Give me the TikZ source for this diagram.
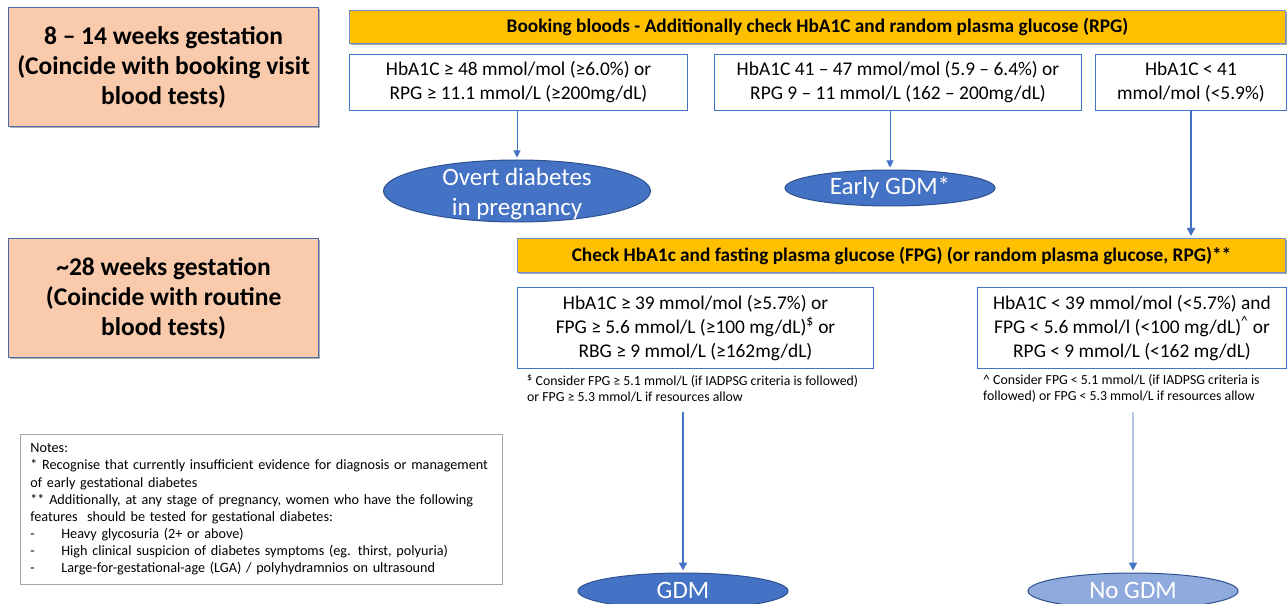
\documentclass[tikz,border=0pt]{standalone}
\usepackage{fontspec}
\setmainfont{Carlito}
\usetikzlibrary{shapes.geometric,arrows.meta,shadows}
\definecolor{peach}{HTML}{F9CBAC}
\definecolor{gold}{HTML}{FFC000}
\definecolor{blu}{HTML}{4472C4}
\definecolor{bluedark}{HTML}{2F528F}
\definecolor{lightblu}{HTML}{8FAADC}
\definecolor{paleline}{HTML}{B4C7E7}
\definecolor{stageborder}{HTML}{4A6DA8}
\definecolor{bannerborder}{HTML}{6F8FD0}
\definecolor{shadowgray}{HTML}{8C8C8C}
\definecolor{notegray}{HTML}{A6A6A6}
\tikzset{
  stage/.style={draw=stageborder, fill=peach, line width=1.2pt, minimum width=310pt, minimum height=119pt, anchor=north west, inner sep=0pt, align=center, font=\bfseries\fontsize{25.5}{30}\selectfont, drop shadow={shadow xshift=1pt, shadow yshift=-1pt, fill=shadowgray, opacity=0.7}},
  banner/.style={draw=bannerborder, fill=gold, line width=1pt, anchor=north west, inner sep=0pt, font=\bfseries\fontsize{19.3}{22}\selectfont, drop shadow={shadow xshift=1.2pt, shadow yshift=-1.2pt, fill=shadowgray, opacity=0.8}},
  crit/.style={draw=blu, fill=white, line width=1pt, anchor=north west, inner sep=0pt, align=center, font=\fontsize{19.4}{24}\selectfont},
  outc/.style={ellipse, draw=bluedark, fill=blu, line width=1pt, inner sep=0pt},
  outcpale/.style={ellipse, draw=bluedark, fill=lightblu, line width=1pt, inner sep=0pt},
  outtext/.style={text=white, inner sep=0pt, align=center, font=\fontsize{25}{30}\selectfont},
  fnote/.style={anchor=north west, inner sep=0pt, align=left, font=\fontsize{13.8}{16}\selectfont},
  notesbox/.style={draw=notegray, line width=0.8pt, anchor=north west, inner xsep=10pt, inner ysep=0pt, minimum height=150pt, text width=462pt, align=left, font=\fontsize{14.2}{17.1}\selectfont},
  arr/.style={draw=blu, line width=0.9pt, -{Triangle[width=7pt,length=7pt]}, shorten >=2pt},
  arrthick/.style={draw=blu, line width=1.8pt, -{Triangle[width=8pt,length=8pt]}, shorten >=2pt},
  arrpale/.style={draw=paleline, line width=1.5pt, -{Triangle[width=8pt,length=8pt,color=blu]}, shorten >=2pt}
}
\begin{document}
\begin{tikzpicture}[x=1pt,y=-1pt]
\useasboundingbox (0,0) rectangle (1288,604);
\fill[white] (0,0) rectangle (1288,604);

\node[stage] (stage1) at (8,7) {8 -- 14 weeks gestation\\(Coincide with booking visit\\blood tests)};
\node[stage] (stage2) at (8,238) {\textasciitilde 28 weeks gestation\\(Coincide with routine\\blood tests)};

\node[banner, minimum width=936pt, minimum height=33pt] (ban1) at (349,10) {Booking bloods - Additionally check HbA1C and random plasma glucose (RPG)};

\node[crit, minimum width=338pt, minimum height=56pt] (boxA) at (349,54) {HbA1C ≥ 48 mmol/mol (≥6.0\%) or\\RPG ≥ 11.1 mmol/L (≥200mg/dL)};
\node[crit, minimum width=367pt, minimum height=56pt] (boxB) at (714,54) {HbA1C 41 -- 47 mmol/mol (5.9 -- 6.4\%) or\\RPG 9 -- 11 mmol/L (162 -- 200mg/dL)};
\node[crit, minimum width=191pt, minimum height=56pt] (boxC) at (1095,54) {HbA1C < 41\\mmol/mol (<5.9\%)};

\node[outc, minimum width=267pt, minimum height=62pt] (overt) at (517,191) {};
\node[outtext] (overtT) at (517,194) {Overt diabetes\\in pregnancy};
\node[outc, minimum width=210pt, minimum height=36pt] (early) at (890,188) {};
\node[outtext] (earlyT) at (890,188) {Early GDM*};

\node[banner, minimum width=768pt, minimum height=34pt] (ban2) at (517,238) {Check HbA1c and fasting plasma glucose (FPG) (or random plasma glucose, RPG)**};

\node[crit, minimum width=356pt, minimum height=81pt] (boxD) at (517,287) {HbA1C ≥ 39 mmol/mol (≥5.7\%) or\\FPG ≥ 5.6 mmol/L (≥100 mg/dL)\textsuperscript{\$} or\\RBG ≥ 9 mmol/L (≥162mg/dL)};
\node[crit, minimum width=309pt, minimum height=81pt] (boxE) at (977,287) {HbA1C < 39 mmol/mol (<5.7\%) and\\FPG < 5.6 mmol/l (<100 mg/dL)\textsuperscript{\textasciicircum} or\\RPG < 9 mmol/L (<162 mg/dL)};

\node[fnote] (fnD) at (527,374) {\textsuperscript{\$} Consider FPG ≥ 5.1 mmol/L (if IADPSG criteria is followed)\\or FPG ≥ 5.3 mmol/L if resources allow};
\node[fnote] (fnE) at (983,374) {\textasciicircum{} Consider FPG < 5.1 mmol/L (if IADPSG criteria is\\followed) or FPG < 5.3 mmol/L if resources allow};

\node[notesbox] (notes) at (20,434) {Notes:\\
{*} Recognise that currently insufficient evidence for diagnosis or management\\
of early gestational diabetes\\
{**} Additionally, at any stage of pregnancy, women who have the following\\
features\ \ should be tested for gestational diabetes:\\
\makebox[31pt][l]{-}Heavy glycosuria (2+ or above)\\
\makebox[31pt][l]{-}High clinical suspicion of diabetes symptoms (eg. thirst, polyuria)\\
\makebox[31pt][l]{-}Large-for-gestational-age (LGA) / polyhydramnios on ultrasound};

\node[outc, minimum width=210pt, minimum height=36pt] (gdm) at (683,591) {};
\node[outtext] (gdmT) at (683,590) {GDM};
\node[outcpale, minimum width=210pt, minimum height=36pt] (nogdm) at (1133,591) {};
\node[outtext] (nogdmT) at (1133,590) {No GDM};

\coordinate (gs) at (683,412);
\coordinate (ns) at (1133,412);

\draw[arr] (overt.north |- boxA.south) -- (overt.north);
\draw[arr] (early.north |- boxB.south) -- (early.north);
\draw[arrthick] (boxC.south) -- (boxC.south |- ban2.north);
\draw[arrthick] (gs) -- (gdm.north);
\draw[arrpale] (ns) -- (nogdm.north);
\end{tikzpicture}
\end{document}
